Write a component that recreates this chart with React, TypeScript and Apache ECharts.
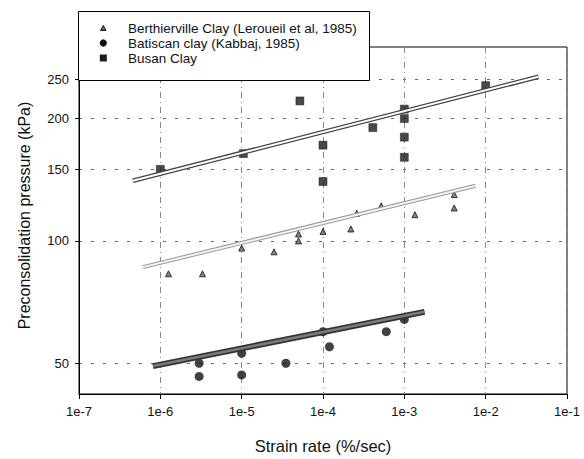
import { useEffect, useRef } from "react";
import * as echarts from "echarts";

// Series names (legend order)
const seriesNames = [
  "Berthierville Clay (Leroueil et al, 1985)",
  "Batiscan clay (Kabbaj, 1985)",
  "Busan Clay",
];

// Berthierville Clay: strain rate (%/sec) and preconsolidation pressure (kPa)
const berthiervilleRate = [1.26e-6, 3.3e-6, 1e-5, 2.5e-5, 5e-5, 5e-5, 1e-4, 2.2e-4, 2.6e-4, 5.2e-4, 1.35e-3, 4.1e-3, 4.1e-3];
const berthiervillePressure = [83, 83, 96, 94, 104, 100, 105.5, 107, 117, 122, 116, 120.5, 130];

// Batiscan clay
const batiscanRate = [3e-6, 3e-6, 1e-5, 1e-5, 3.5e-5, 1e-4, 1.2e-4, 6e-4, 1e-3];
const batiscanPressure = [50, 46.4, 52.9, 46.8, 50, 59.8, 54.9, 59.8, 64.1];

// Busan Clay
const busanRate = [1e-6, 1.05e-5, 5.2e-5, 1e-4, 1e-4, 4.1e-4, 1e-3, 1e-3, 1e-3, 1e-3, 1e-2];
const busanPressure = [150, 164, 221, 172, 140, 190, 211, 200, 180, 160.6, 241];

// Fitted trend lines (end points)
const busanFitRate = [4.6e-7, 0.0447];
const busanFitPressure = [140.6, 253.5];
const berthiervilleFitRate = [6.1e-7, 7.5e-3];
const berthiervilleFitPressure = [86.2, 136.7];
const batiscanFitRate = [8.1e-7, 1.77e-3];
const batiscanFitPressure = [49.2, 66.9];

// Axis ticks
const pressureTicks = [50, 100, 150, 200, 250];

const FONT = "'Liberation Sans', Arial, sans-serif";

const pairs = (xs: number[], ys: number[]) => xs.map((x, i) => [x, ys[i]]);

const fitLine = (name: string, xs: number[], ys: number[], color: string, width: number, z: number) => ({
  name,
  type: "line",
  data: pairs(xs, ys),
  showSymbol: false,
  symbol: "none",
  silent: true,
  z,
  lineStyle: { color, width, cap: "butt" },
});

export default function App() {
  const ref = useRef<HTMLDivElement>(null);

  useEffect(() => {
    if (!ref.current) return;
    const chart = echarts.init(ref.current, undefined, { renderer: "svg" });

    const legendRows = [28, 43, 58];

    chart.setOption({
      animation: false,
      backgroundColor: "#fff",
      grid: {
        left: 79,
        right: 17,
        top: 47,
        bottom: 62,
        show: true,
        borderColor: "#000",
        borderWidth: 1,
        backgroundColor: "transparent",
      },
      xAxis: {
        type: "log",
        logBase: 10,
        min: 1e-7,
        max: 1e-1,
        name: "Strain rate (%/sec)",
        nameLocation: "middle",
        nameGap: 43,
        nameTextStyle: { fontFamily: FONT, fontSize: 16.5, color: "#111" },
        axisLine: { show: true, lineStyle: { color: "#000", width: 1 } },
        axisTick: { show: true, inside: false, length: 5, lineStyle: { color: "#000" } },
        minorTick: { show: false },
        axisLabel: {
          formatter: (v: number) => "1e" + Math.round(Math.log10(v)),
          margin: 11,
          fontSize: 13,
          fontFamily: FONT,
          color: "#111",
          showMinLabel: true,
          showMaxLabel: true,
        },
        splitLine: { show: true, lineStyle: { color: "#888", width: 1, type: [6, 4, 1, 4] } },
      },
      yAxis: {
        type: "log",
        logBase: 10,
        min: 42,
        max: 300,
        name: "Preconsolidation pressure (kPa)",
        nameLocation: "middle",
        nameGap: 47,
        nameRotate: 90,
        nameTextStyle: { fontFamily: FONT, fontSize: 16, color: "#111", padding: [0, 0, 0, 10] },
        axisLine: { show: true, lineStyle: { color: "#000", width: 1 } },
        axisTick: { show: true, inside: false, length: 4, customValues: pressureTicks, lineStyle: { color: "#000" } },
        minorTick: { show: false },
        axisLabel: {
          customValues: pressureTicks,
          margin: 10,
          fontSize: 13,
          fontFamily: FONT,
          color: "#111",
        },
        splitLine: { show: true, lineStyle: { color: "#666", width: 1, type: [3, 9] } },
      },
      series: [
        {
          name: seriesNames[0],
          type: "scatter",
          data: pairs(berthiervilleRate, berthiervillePressure),
          symbol: "triangle",
          symbolSize: 6,
          z: 2,
          itemStyle: { color: "#666", borderColor: "#111", borderWidth: 1 },
        },
        {
          name: seriesNames[1],
          type: "scatter",
          data: pairs(batiscanRate, batiscanPressure),
          symbol: "circle",
          symbolSize: 9,
          z: 2,
          itemStyle: { color: "#111" },
        },
        {
          name: seriesNames[2],
          type: "scatter",
          data: pairs(busanRate, busanPressure),
          symbol: "rect",
          symbolSize: 8,
          z: 2,
          itemStyle: { color: "#1c1c1c", borderColor: "#000", borderWidth: 0.5 },
        },
        fitLine("busanFitOuter", busanFitRate, busanFitPressure, "#444", 4.5, 3),
        fitLine("busanFitInner", busanFitRate, busanFitPressure, "#fff", 2, 4),
        fitLine("berthiervilleFitOuter", berthiervilleFitRate, berthiervilleFitPressure, "#999", 4, 3),
        fitLine("berthiervilleFitInner", berthiervilleFitRate, berthiervilleFitPressure, "#f4f4f4", 2, 4),
        fitLine("batiscanFitOuter", batiscanFitRate, batiscanFitPressure, "#333", 6, 3),
        fitLine("batiscanFitInner", batiscanFitRate, batiscanFitPressure, "#7a7a7a", 2.5, 4),
      ],
      graphic: [
        {
          type: "rect",
          z: 100,
          shape: { x: 78.5, y: 11.5, width: 291, height: 69 },
          style: { fill: "#fff", stroke: "#000", lineWidth: 1 },
        },
        {
          type: "polygon",
          z: 101,
          shape: { points: [[103.3, 25.5], [100.6, 30.5], [106, 30.5]] },
          style: { fill: "#666", stroke: "#111", lineWidth: 1 },
        },
        {
          type: "circle",
          z: 101,
          shape: { cx: 103.3, cy: 43, r: 3.6 },
          style: { fill: "#111" },
        },
        {
          type: "rect",
          z: 101,
          shape: { x: 99.8, y: 54.5, width: 7, height: 7 },
          style: { fill: "#1c1c1c" },
        },
        ...seriesNames.map((name, i) => ({
          type: "text",
          z: 101,
          x: 128,
          y: legendRows[i],
          style: {
            text: name,
            fill: "#111",
            font: `13.5px ${FONT}`,
            verticalAlign: "middle",
            align: "left",
          },
        })),
      ],
    });

    return () => chart.dispose();
  }, []);

  return (
    <div
      ref={ref}
      style={{ position: "fixed", left: 0, top: 0, width: 584, height: 459, background: "#fff" }}
    />
  );
}
